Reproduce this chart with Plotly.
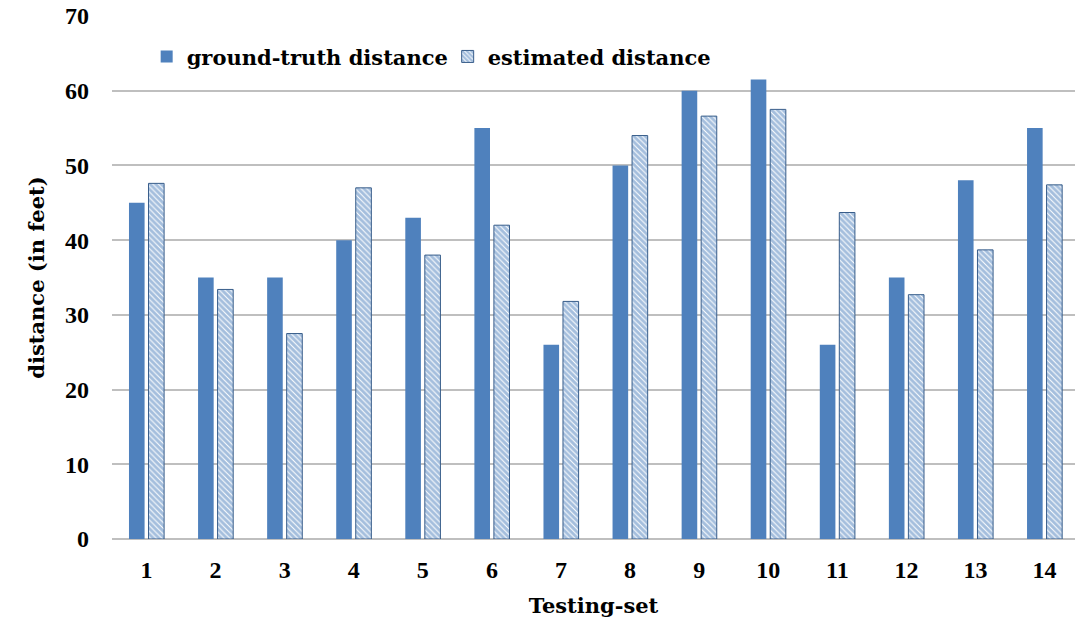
import plotly.graph_objects as go

categories = ["1", "2", "3", "4", "5", "6", "7", "8", "9", "10", "11", "12", "13", "14"]
ground_truth = [45, 35, 35, 40, 43, 55, 26, 50, 60, 61.5, 26, 35, 48, 55]
estimated = [47.6, 33.4, 27.5, 47.0, 38.0, 42.0, 31.8, 54.0, 56.6, 57.5, 43.7, 32.7, 38.7, 47.4]

TICKFONT = "Liberation Serif"
TEXTFONT = "DejaVu Serif"

fig = go.Figure()
fig.add_trace(go.Bar(
    x=categories, y=ground_truth, name="ground-truth distance",
    marker=dict(color="#4F81BD", line=dict(width=0)),
))
fig.add_trace(go.Bar(
    x=categories, y=estimated, name="estimated distance",
    marker=dict(color="white", line=dict(color="#385D8A", width=1),
                pattern=dict(shape="\\", fgcolor="#4A7EBB", bgcolor="white",
                             size=4, solidity=0.75)),
))

fig.update_layout(
    width=1075, height=626,
    margin=dict(l=112, r=0, t=16, b=87),
    paper_bgcolor="white", plot_bgcolor="white",
    barmode="group", bargap=0.435, bargroupgap=0.2,
    font=dict(family=TEXTFONT, color="black", weight="bold"),
    legend=dict(orientation="h", x=0.036, y=0.922, xanchor="left", yanchor="middle",
                font=dict(family=TEXTFONT, size=21, weight="bold", color="black"),
                bgcolor="rgba(0,0,0,0)", itemwidth=30,
                entrywidthmode="pixels", entrywidth=256),
    xaxis=dict(range=[-0.5, 13.44], showgrid=False, showline=False, ticks="",
               ticklabelstandoff=14,
               tickfont=dict(family=TICKFONT, size=24, weight="bold"),
               title=dict(text="Testing-set", font=dict(family=TEXTFONT, size=21, weight="bold"),
                          standoff=16)),
    yaxis=dict(range=[0, 70], dtick=10, showgrid=True, gridcolor="#BFBFBF", gridwidth=1.5,
               zeroline=True, zerolinecolor="#BFBFBF", zerolinewidth=1.5,
               showline=False, ticks="", ticklabelstandoff=22,
               tickfont=dict(family=TICKFONT, size=24, weight="bold"),
               title=dict(text="distance (in feet)", font=dict(family=TEXTFONT, size=21, weight="bold"),
                          standoff=14)),
)

fig.write_html("out.html")
